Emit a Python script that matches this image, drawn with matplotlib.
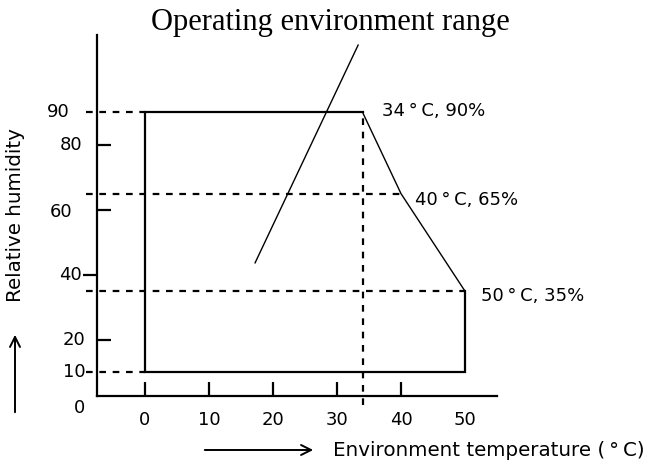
import numpy as np
import matplotlib
matplotlib.use('Agg')
import matplotlib.pyplot as plt
import matplotlib.lines as mlines

# data
temp = [0, 34, 40, 50, 50, 0]          # deg C, corner points of the range
hum = [90, 90, 65, 35, 10, 10]         # % RH
corner_labels = ['34\u2009°\u2009C, 90%', '40\u2009°\u2009C, 65%', '50\u2009°\u2009C, 35%']
x_ticks = [0, 10, 20, 30, 40, 50]
y_tick_marks = [20, 40, 60, 80]
y_labels = [90, 80, 60, 40, 20, 10, 0]
dash_levels = [90, 65, 35, 10]
dash_ends = [0, 40, 50, 0]
leader_x = [17.2, 33.3]
leader_y = [43.7, 110.7]

plt.rcParams['font.family'] = 'DejaVu Sans'

fig = plt.figure(figsize=(6.51, 4.62), dpi=100)
ax = fig.add_axes([97/651, 66/462, 400/651, 361/462])
ax.set_xlim(-7.5, 55)
ax.set_ylim(2.74, 113.8)
ax.spines['top'].set_visible(False)
ax.spines['right'].set_visible(False)
ax.spines['left'].set_linewidth(1.6)
ax.spines['bottom'].set_linewidth(1.6)

# x ticks pointing inwards, no mark at 50
ax.set_xticks(x_ticks)
ax.set_xticklabels([str(t) for t in x_ticks], fontsize=13)
ax.tick_params(axis='x', direction='in', length=10, width=1.6, pad=11)
ax.xaxis.get_major_ticks()[-1].tick1line.set_visible(False)

# y ticks, the 40 one sticks out to the left
ax.set_yticks(y_tick_marks)
ax.set_yticklabels([])
ax.tick_params(axis='y', direction='in', length=10, width=1.6)
ax.yaxis.get_major_ticks()[1].tick1line.set_marker(mlines.TICKLEFT)

ylab_dx = [27, 15, 25, 15, 12, 11, 12]
ylab_dy = [0, 0, -2, 0, 0, 0, -3]
for v, dx, dy in zip(y_labels, ylab_dx, ylab_dy):
    ax.annotate(str(v), xy=(-7.5, v), xytext=(-dx, dy), textcoords='offset pixels',
                ha='right', va='center', fontsize=13, annotation_clip=False)

# operating range outline
ax.plot(temp[3:] + temp[:2], hum[3:] + hum[:2], color='black', lw=1.6,
        solid_joinstyle='miter', clip_on=False)
ax.plot(temp[1:4], hum[1:4], color='black', lw=1.0, clip_on=False)

# dotted guide lines
for lvl, end in zip(dash_levels, dash_ends):
    ax.plot([-9.2, end], [lvl, lvl], color='black', lw=1.6,
            dashes=(3, 3), clip_on=False)
ax.plot([temp[1], temp[1]], [0, hum[1]], color='black', lw=1.6,
        dashes=(3, 3), clip_on=False)

# corner labels
lab_off = [(19, 1), (14, -6), (16, -5)]
for i, txt in enumerate(corner_labels):
    ax.annotate(txt, xy=(temp[i+1], hum[i+1]), xytext=lab_off[i],
                textcoords='offset pixels', ha='left', va='center',
                fontsize=13, annotation_clip=False)

# title and leader line
ax.plot(leader_x, leader_y, color='black', lw=1.0, clip_on=False)
fig.text(330/651, 1 - 30/462, 'Operating environment range', family='Liberation Serif',
         fontsize=22, ha='center', va='baseline')

# axis titles with arrows
fig.text(15.5/651, 1 - 215/462, 'Relative humidity', rotation=90, fontsize=14.3,
         ha='center', va='center')
fig.text(333/651, 1 - 450/462, 'Environment temperature (\u2009°\u2009C)', fontsize=14.3,
         ha='left', va='center')
fig.add_artist(matplotlib.patches.FancyArrowPatch((15/651, 1 - 415/462), (15/651, 1 - 332/462),
               transform=fig.transFigure, arrowstyle='->', mutation_scale=18, lw=1.4, color='black'))
fig.add_artist(matplotlib.patches.FancyArrowPatch((202/651, 1 - 450/462), (316/651, 1 - 450/462),
               transform=fig.transFigure, arrowstyle='->', mutation_scale=18, lw=1.4, color='black'))

fig.savefig('out.png', dpi=100)
